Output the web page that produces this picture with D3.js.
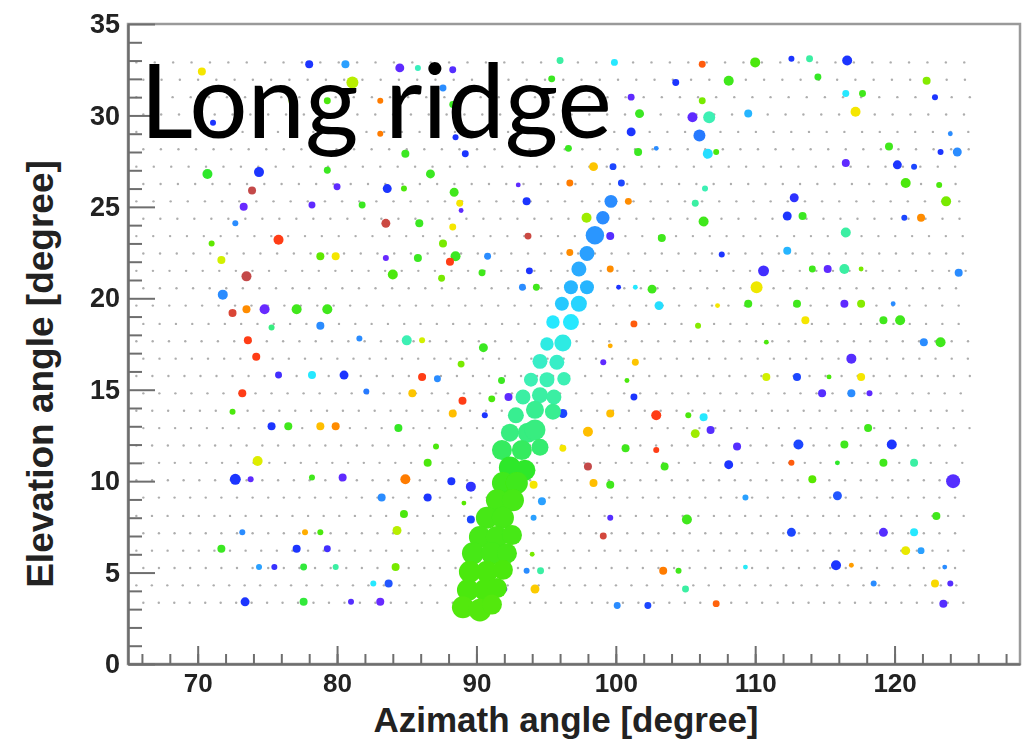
<!DOCTYPE html>
<html>
<head>
<meta charset="utf-8">
<script src="https://cdn.jsdelivr.net/npm/d3@7"></script>
<style>
  body { margin: 0; background: #fff; }
  .tick text { font-family: "Liberation Sans", Arial, sans-serif; font-weight: bold; fill: #222; }
</style>
</head>
<body>
<svg id="chart" width="1031" height="740"></svg>
<script>
// tick values
var xMajorTicks = [70, 80, 90, 100, 110, 120];
var xMinorTicks = [66, 68, 70, 72, 74, 76, 78, 80, 82, 84, 86, 88, 90, 92, 94, 96, 98, 100,
                   102, 104, 106, 108, 110, 112, 114, 116, 118, 120, 122, 124, 126, 128];
var yMajorTicks = [0, 5, 10, 15, 20, 25, 30, 35];
var yMinorTicks = [1, 2, 3, 4, 6, 7, 8, 9, 11, 12, 13, 14, 16, 17, 18, 19, 21, 22, 23, 24,
                   26, 27, 28, 29, 31, 32, 33, 34];

// scan grid rows: elevation, first azimuth, azimuth step
var gridElev  = [3.35, 4.3, 5.25, 6.2, 7.15, 8.1, 9.1, 10.05, 11.0, 11.95, 12.9, 13.85, 14.8, 15.75,
                 16.7, 17.65, 18.6, 19.6, 20.55, 21.5, 22.45, 23.4, 24.35, 25.3, 26.25, 27.2, 28.15,
                 29.1, 30.05, 31.0, 31.95, 32.9];
var gridStart = [66.1, 65.6, 66.1, 65.6, 66.1, 65.6, 66.1, 65.6, 66.1, 65.6, 66.1, 65.6, 66.1, 65.6,
                 66.1, 65.6, 66.1, 65.6, 66.1, 65.6, 66.1, 65.6, 66.1, 65.6, 66.1, 65.6, 66.1,
                 65.6, 66.1, 65.6, 66.1, 65.6];
var gridStep  = [1.11, 1.11, 1.12, 1.12, 1.12, 1.12, 1.12, 1.13, 1.13, 1.13, 1.14, 1.14, 1.15, 1.15,
                 1.16, 1.17, 1.17, 1.18, 1.19, 1.19, 1.2, 1.21, 1.22, 1.23, 1.24, 1.25, 1.26,
                 1.27, 1.28, 1.3, 1.31, 1.32];
var gridEnd = 125.4;

// scattered hits: [azimuth, elevation, colour value, signal]
var hits = [
  [70.3, 32.4, 0.68, 16], [76.8, 30.8, 0.58, 16], [71.1, 29.6, 0.10, 9], [70.7, 26.8, 0.45, 25],
  [74.4, 26.9, 0.10, 25], [73.9, 25.9, 0.98, 16], [73.3, 25.0, 0.02, 16], [72.7, 24.1, 0.20, 9],
  [75.8, 23.2, 0.90, 25], [71.0, 23.0, 0.53, 9], [71.7, 22.1, 0.62, 16], [78.8, 22.3, 0.53, 16],
  [79.9, 22.3, 0.68, 16], [83.5, 22.2, 0.02, 9], [73.5, 21.2, 0.98, 25], [84.0, 21.3, 0.50, 25],
  [71.8, 20.2, 0.20, 25], [72.5, 19.2, 0.95, 16], [73.5, 19.4, 0.80, 16], [74.8, 19.4, 0.02, 25],
  [77.1, 19.4, 0.48, 25], [79.3, 19.4, 0.48, 25], [75.3, 18.4, 0.40, 9], [78.8, 18.5, 0.20, 16],
  [73.6, 17.7, 0.90, 16], [81.6, 17.8, 0.20, 9], [85.0, 17.7, 0.37, 25], [74.2, 16.8, 0.90, 16],
  [75.8, 15.8, 0.06, 12], [78.2, 15.8, 0.29, 16], [80.5, 15.8, 0.10, 20], [73.2, 14.8, 0.90, 16],
  [82.1, 14.9, 0.18, 9], [72.5, 13.8, 0.50, 9], [75.3, 13.0, 0.10, 16], [76.5, 13.0, 0.48, 16],
  [78.8, 13.0, 0.74, 16], [79.9, 13.0, 0.80, 16], [84.4, 12.9, 0.46, 16], [74.3, 11.1, 0.64, 25],
  [72.7, 10.1, 0.10, 30], [73.8, 10.1, 0.03, 9], [78.2, 10.2, 0.48, 9], [80.4, 10.2, 0.03, 16],
  [84.9, 10.1, 0.82, 25], [83.2, 9.1, 0.20, 16], [84.8, 8.2, 0.50, 16], [73.2, 7.2, 0.20, 9],
  [77.7, 7.2, 0.76, 9], [78.8, 7.2, 0.50, 9], [84.3, 7.3, 0.60, 20], [71.7, 6.3, 0.47, 16],
  [77.1, 6.3, 0.10, 16], [79.3, 6.3, 0.06, 12], [74.4, 5.3, 0.22, 9], [75.5, 5.3, 0.07, 9],
  [77.6, 5.3, 0.44, 12], [79.9, 5.3, 0.38, 9], [84.2, 5.3, 0.55, 16], [82.6, 4.4, 0.29, 9],
  [83.7, 4.4, 0.14, 16], [73.4, 3.4, 0.10, 20], [77.6, 3.4, 0.44, 16], [81.0, 3.4, 0.04, 9],
  [83.1, 3.4, 0.02, 16], [89.2, 5.0, 0.10, 20], [92.0, 4.1, 0.03, 9], [93.6, 5.1, 0.20, 9],
  [94.6, 5.1, 0.38, 12], [94.2, 4.1, 0.72, 20], [94.0, 6.0, 0.55, 6], [100.1, 3.2, 0.20, 12],
  [102.3, 3.2, 0.12, 12], [105.0, 4.1, 0.38, 12], [103.4, 5.1, 0.82, 16], [104.5, 5.1, 0.48, 9],
  [107.2, 3.3, 0.85, 12], [109.3, 5.3, 0.30, 6], [115.8, 5.4, 0.10, 25], [116.9, 5.4, 0.78, 6],
  [118.5, 4.4, 0.20, 9], [120.8, 6.2, 0.66, 20], [121.9, 6.2, 0.22, 12], [122.9, 4.4, 0.70, 16],
  [124.0, 4.4, 0.04, 9], [123.6, 5.3, 0.20, 6], [123.5, 3.3, 0.04, 16], [88.3, 13.7, 0.74, 16],
  [90.6, 13.6, 0.10, 9], [96.2, 13.7, 0.12, 20], [99.6, 13.7, 0.74, 16], [102.9, 13.6, 0.90, 25],
  [105.2, 13.6, 0.50, 9], [98.0, 12.7, 0.74, 25], [105.7, 12.6, 0.58, 20], [87.1, 11.9, 0.50, 9],
  [96.2, 11.8, 0.68, 12], [100.7, 11.8, 0.48, 16], [102.9, 11.7, 0.90, 9], [86.5, 11.0, 0.50, 16],
  [98.0, 10.8, 0.98, 16], [103.5, 10.8, 0.48, 16], [88.2, 10.0, 0.10, 16], [89.6, 9.7, 0.08, 25],
  [94.1, 9.8, 0.68, 16], [98.4, 9.9, 0.74, 16], [99.6, 9.8, 0.48, 16], [86.5, 9.1, 0.10, 16],
  [89.1, 8.8, 0.52, 6], [94.7, 8.9, 0.22, 16], [89.6, 7.9, 0.12, 16], [94.1, 8.0, 0.22, 9],
  [99.6, 8.0, 0.04, 9], [105.1, 7.9, 0.48, 25], [99.1, 7.0, 0.96, 12], [89.2, 27.9, 0.10, 12],
  [101.6, 28.0, 0.47, 16], [86.7, 26.8, 0.47, 20], [98.4, 27.2, 0.73, 20], [99.8, 27.2, 0.12, 12],
  [84.8, 26.0, 0.50, 9], [93.0, 26.2, 0.03, 6], [96.7, 26.3, 0.82, 12], [100.4, 26.3, 0.12, 12],
  [88.4, 25.8, 0.48, 20], [88.8, 25.2, 0.68, 12], [88.9, 24.8, 0.03, 6], [93.6, 25.3, 0.10, 16],
  [100.9, 25.3, 0.80, 12], [105.7, 25.2, 0.38, 12], [97.9, 24.4, 0.58, 25], [85.9, 24.1, 0.47, 16],
  [88.3, 23.9, 0.68, 12], [99.6, 23.4, 0.04, 16], [93.7, 23.4, 0.97, 12], [103.3, 23.3, 0.48, 16],
  [87.6, 23.0, 0.55, 16], [88.5, 22.3, 0.47, 25], [88.1, 22.0, 0.90, 16], [85.8, 22.2, 0.47, 16],
  [90.8, 22.3, 0.20, 12], [96.7, 22.5, 0.80, 12], [87.5, 21.1, 0.55, 12], [90.4, 21.4, 0.48, 12],
  [93.8, 21.5, 0.10, 12], [99.6, 21.6, 0.80, 12], [93.3, 20.6, 0.20, 12], [94.3, 20.6, 0.48, 12],
  [100.2, 20.6, 0.10, 6], [101.4, 20.6, 0.29, 6], [102.6, 20.5, 0.48, 20], [103.1, 19.6, 0.28, 20],
  [101.3, 18.6, 0.86, 12], [105.9, 18.5, 0.56, 9], [86.1, 17.7, 0.62, 9], [90.5, 17.3, 0.47, 20],
  [99.6, 17.4, 0.76, 6], [88.9, 16.4, 0.55, 12], [99.1, 16.5, 0.03, 9], [101.4, 16.5, 0.73, 12],
  [86.1, 15.7, 0.90, 16], [87.2, 15.6, 0.20, 12], [91.8, 15.5, 0.47, 12], [100.8, 15.5, 0.50, 6],
  [85.4, 14.8, 0.73, 16], [89.0, 14.4, 0.90, 16], [91.1, 14.5, 0.50, 12], [92.3, 14.6, 0.03, 16],
  [101.3, 14.6, 0.10, 12], [106.2, 32.8, 0.86, 12], [110.0, 32.9, 0.50, 25], [112.6, 33.1, 0.10, 9],
  [113.9, 33.1, 0.38, 12], [116.6, 33.0, 0.10, 25], [108.1, 31.9, 0.48, 25], [114.5, 32.1, 0.46, 12],
  [122.3, 31.9, 0.56, 16], [106.2, 30.8, 0.55, 12], [116.5, 31.2, 0.29, 12], [117.7, 31.2, 0.48, 12],
  [122.9, 31.0, 0.10, 9], [106.7, 29.9, 0.37, 36], [109.5, 30.1, 0.24, 16], [117.2, 30.2, 0.68, 25],
  [106.0, 28.9, 0.18, 36], [124.0, 29.0, 0.20, 6], [106.6, 27.9, 0.28, 25], [107.2, 28.0, 0.50, 9],
  [119.6, 28.3, 0.48, 16], [123.3, 28.0, 0.10, 9], [124.5, 28.0, 0.20, 20], [116.5, 27.4, 0.03, 16],
  [120.2, 27.3, 0.10, 20], [121.4, 27.2, 0.12, 9], [106.4, 26.0, 0.37, 9], [120.8, 26.3, 0.50, 25],
  [123.2, 26.2, 0.50, 9], [112.8, 25.5, 0.08, 20], [123.7, 25.3, 0.55, 25], [106.3, 24.2, 0.48, 25],
  [112.3, 24.5, 0.10, 20], [113.4, 24.5, 0.47, 16], [120.7, 24.4, 0.12, 9], [121.9, 24.4, 0.80, 16],
  [116.5, 23.6, 0.38, 25], [112.3, 22.6, 0.24, 16], [107.6, 22.4, 0.10, 9], [110.6, 21.5, 0.06, 30],
  [114.1, 21.6, 0.48, 12], [115.2, 21.6, 0.03, 16], [116.4, 21.6, 0.38, 25], [117.6, 21.6, 0.55, 6],
  [124.6, 21.4, 0.20, 16], [110.1, 20.6, 0.67, 36], [107.3, 19.6, 0.68, 6], [109.5, 19.7, 0.48, 16],
  [113.0, 19.7, 0.48, 16], [116.4, 19.7, 0.03, 16], [117.6, 19.7, 0.56, 16], [119.9, 19.7, 0.20, 6],
  [113.6, 18.8, 0.68, 16], [119.2, 18.8, 0.48, 16], [120.4, 18.8, 0.48, 25], [110.8, 17.6, 0.50, 6],
  [122.1, 17.6, 0.20, 16], [123.3, 17.6, 0.48, 25], [116.9, 16.7, 0.04, 25], [110.8, 15.7, 0.62, 16],
  [113.0, 15.7, 0.12, 16], [115.3, 15.7, 0.50, 6], [117.6, 15.7, 0.68, 16], [114.8, 14.8, 0.04, 16],
  [116.9, 14.8, 0.20, 16], [118.2, 14.8, 0.03, 9], [106.3, 13.5, 0.29, 16], [106.8, 12.8, 0.04, 16],
  [118.1, 12.9, 0.48, 16], [108.7, 11.9, 0.04, 16], [113.1, 12.0, 0.12, 25], [116.4, 12.0, 0.48, 16],
  [119.8, 12.0, 0.10, 25], [108.1, 10.9, 0.10, 20], [112.6, 11.0, 0.86, 9], [115.9, 11.0, 0.45, 6],
  [119.2, 11.0, 0.48, 16], [121.4, 11.0, 0.38, 16], [114.1, 10.1, 0.52, 16], [124.2, 10.0, 0.04, 49],
  [109.3, 9.1, 0.22, 9], [115.9, 9.2, 0.14, 20], [123.0, 8.1, 0.48, 16], [112.6, 7.2, 0.12, 20],
  [119.2, 7.2, 0.04, 20], [121.4, 7.2, 0.29, 16], [78.0, 32.8, 0.10, 16], [80.6, 32.8, 0.22, 16],
  [84.5, 32.6, 0.03, 20], [85.8, 32.6, 0.36, 9], [88.3, 32.5, 0.04, 12], [81.1, 31.8, 0.60, 36],
  [87.6, 31.5, 0.20, 12], [79.3, 30.8, 0.50, 12], [83.1, 30.8, 0.82, 9], [88.3, 30.6, 0.47, 12],
  [83.1, 29.0, 0.82, 9], [88.5, 28.8, 0.10, 9], [84.9, 27.9, 0.47, 16], [96.0, 33.0, 0.38, 12],
  [99.9, 32.9, 0.29, 12], [95.4, 32.0, 0.47, 12], [104.3, 31.8, 0.10, 12], [101.1, 31.0, 0.03, 12],
  [101.7, 30.1, 0.47, 20], [105.5, 29.9, 0.03, 25], [101.1, 29.1, 0.10, 20], [96.6, 28.2, 0.47, 12],
  [102.9, 28.2, 0.20, 6], [79.3, 27.0, 0.47, 12], [80.0, 26.1, 0.03, 12], [83.6, 26.0, 0.10, 20],
  [78.2, 25.1, 0.03, 12], [81.8, 25.1, 0.47, 12], [83.5, 24.1, 0.97, 20]
];

// the ridge: [azimuth, elevation, colour value, signal]
var ridge = [
  [99.65, 25.3, 0.20, 42], [99.07, 24.4, 0.20, 45], [98.5, 23.45, 0.21, 85], [97.93, 22.45, 0.22, 56],
  [97.35, 21.6, 0.23, 56], [96.78, 20.6, 0.24, 49], [97.93, 20.6, 0.24, 49], [96.13, 19.7, 0.26, 49],
  [97.35, 19.7, 0.27, 64], [95.49, 18.7, 0.29, 45], [96.78, 18.7, 0.29, 64], [95.06, 17.5, 0.32, 45],
  [96.2, 17.55, 0.32, 72], [94.56, 16.55, 0.35, 56], [95.77, 16.5, 0.35, 56], [93.91, 15.55, 0.37, 49],
  [95.06, 15.55, 0.37, 56], [96.28, 15.6, 0.37, 45], [93.34, 14.6, 0.38, 56], [94.56, 14.7, 0.38, 64],
  [95.56, 14.6, 0.38, 56], [92.83, 13.6, 0.39, 64], [94.2, 13.9, 0.39, 81], [95.49, 13.8, 0.39, 64],
  [92.4, 12.65, 0.40, 81], [93.69, 12.65, 0.40, 100], [94.2, 12.8, 0.40, 110], [91.83, 11.7, 0.42, 100],
  [93.26, 11.7, 0.42, 100], [94.56, 11.85, 0.41, 72], [92.4, 10.75, 0.45, 121], [93.48, 10.6, 0.45, 110],
  [91.9, 9.9, 0.48, 121], [92.9, 9.9, 0.48, 121], [91.47, 8.95, 0.49, 121], [92.62, 8.95, 0.49, 121],
  [90.75, 8.0, 0.49, 121], [91.9, 8.0, 0.49, 121], [90.25, 6.95, 0.49, 121], [91.47, 6.95, 0.49, 121],
  [92.55, 7.05, 0.49, 100], [89.75, 6.05, 0.49, 121], [91.11, 6.05, 0.49, 121], [92.19, 6.05, 0.49, 100],
  [89.53, 5.05, 0.50, 121], [90.75, 5.05, 0.50, 121], [91.9, 5.15, 0.50, 100], [89.39, 4.05, 0.50, 121],
  [90.61, 4.05, 0.50, 121], [91.47, 4.15, 0.50, 100], [89.03, 3.1, 0.51, 121], [90.25, 2.95, 0.51, 130],
  [91.11, 3.25, 0.51, 100]
];

var svg = d3.select("#chart");
var margin = {left: 128, right: 1020, top: 24, bottom: 664};

var x = d3.scaleLinear().domain([65, 129]).range([margin.left, margin.right]);
var y = d3.scaleLinear().domain([0, 35]).range([margin.bottom, margin.top]);
var r = d3.scaleSqrt().domain([0, 100]).range([0, 10]);

// ROOT-like rainbow palette
var color = d3.scaleLinear()
    .domain([0, 0.10, 0.20, 0.29, 0.37, 0.45, 0.53, 0.62, 0.68, 0.74, 0.80, 0.90, 0.98])
    .range(["#7a28ff", "#1c34ff", "#2a8cff", "#26e8ff", "#3cf0b4", "#2fe82a", "#5ee800",
            "#d2f000", "#f5e600", "#ffbe00", "#ff8c00", "#ff3c14", "#c44a4a"])
    .clamp(true);

var defs = svg.append("defs");
defs.append("filter").attr("id", "soft")
    .append("feGaussianBlur").attr("stdDeviation", 0.7);
defs.append("clipPath").attr("id", "plotclip")
  .append("rect")
    .attr("x", margin.left).attr("y", margin.top)
    .attr("width", margin.right - margin.left).attr("height", margin.bottom - margin.top);

var plot = svg.append("g").attr("clip-path", "url(#plotclip)")
  .append("g").attr("filter", "url(#soft)");

// background scan grid
var grid = [];
gridElev.forEach(function(el, i) {
    d3.range(gridStart[i], gridEnd, gridStep[i]).forEach(function(az) {
        grid.push([az, el]);
    });
});
plot.selectAll(".grid")
    .data(grid)
  .enter().append("circle")
    .attr("class", "grid")
    .attr("cx", function(d) { return x(d[0]); })
    .attr("cy", function(d) { return y(d[1]); })
    .attr("r", 1.2)
    .attr("fill", "#8a8a8a")
    .attr("opacity", 0.7);

plot.selectAll(".hit")
    .data(hits)
  .enter().append("circle")
    .attr("class", "hit")
    .attr("cx", function(d) { return x(d[0]); })
    .attr("cy", function(d) { return y(d[1]); })
    .attr("r", function(d) { return r(d[3]); })
    .attr("fill", function(d) { return color(d[2]); });

plot.selectAll(".ridge")
    .data(ridge)
  .enter().append("circle")
    .attr("class", "ridge")
    .attr("cx", function(d) { return x(d[0]); })
    .attr("cy", function(d) { return y(d[1]); })
    .attr("r", function(d) { return r(d[3]); })
    .attr("fill", function(d) { return color(d[2]); });

// frame
svg.append("rect")
    .attr("x", margin.left).attr("y", margin.top)
    .attr("width", margin.right - margin.left).attr("height", margin.bottom - margin.top)
    .attr("fill", "none").attr("stroke", "#9a9a9a").attr("stroke-width", 2.5);

// y axis: minor then major ticks, pointing inward
svg.append("g")
    .attr("transform", "translate(" + margin.left + ",0)")
    .call(d3.axisLeft(y).tickValues(yMinorTicks).tickSize(-14).tickSizeOuter(0).tickFormat(""))
    .call(function(g) { g.select(".domain").remove(); });
var yAxis = svg.append("g")
    .attr("transform", "translate(" + margin.left + ",0)")
    .call(d3.axisLeft(y).tickValues(yMajorTicks).tickSize(-27).tickSizeOuter(0).tickPadding(8));
yAxis.selectAll("text").style("font-size", "27px");

// x axis
svg.append("g")
    .attr("transform", "translate(0," + margin.bottom + ")")
    .call(d3.axisBottom(x).tickValues(xMinorTicks).tickSize(-10).tickSizeOuter(0).tickFormat(""))
    .call(function(g) { g.select(".domain").remove(); });
var xAxis = svg.append("g")
    .attr("transform", "translate(0," + margin.bottom + ")")
    .call(d3.axisBottom(x).tickValues(xMajorTicks).tickSize(-18).tickSizeOuter(0).tickPadding(10));
xAxis.selectAll("text").style("font-size", "26px");

svg.selectAll(".tick line").attr("stroke", "#6e6e6e").attr("stroke-width", 2);
svg.selectAll(".domain").attr("stroke", "#6e6e6e").attr("stroke-width", 2.5);

// axis titles
svg.append("text")
    .attr("x", 566).attr("y", 732)
    .attr("text-anchor", "middle")
    .style("font-family", "'Liberation Sans', Arial, sans-serif")
    .style("font-weight", "bold").style("font-size", "35px").style("fill", "#222")
    .text("Azimath angle [degree]");

svg.append("text")
    .attr("transform", "translate(53,374) rotate(-90)")
    .attr("text-anchor", "middle")
    .style("font-family", "'Liberation Sans', Arial, sans-serif")
    .style("font-weight", "bold").style("font-size", "37px").style("fill", "#222")
    .text("Elevation angle [degree]");

// annotation
svg.append("text")
    .attr("x", 140).attr("y", 138)
    .style("font-family", "Lato, sans-serif")
    .style("font-size", "103px").style("fill", "#000")
    .text("Long ridge");
</script>
</body>
</html>
